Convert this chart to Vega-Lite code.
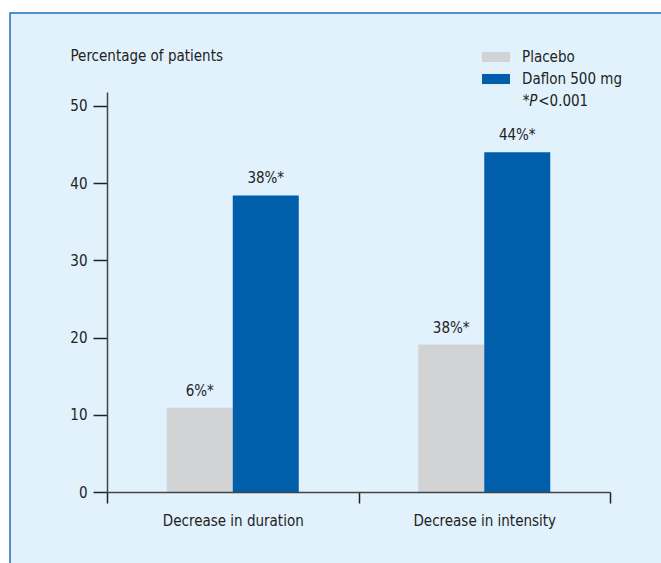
{
  "$schema": "https://vega.github.io/schema/vega-lite/v6.json",
  "autosize": {"type": "none"},
  "padding": {"left": 107, "top": 92, "right": 51, "bottom": 71},
  "width": 503,
  "height": 400,
  "background": "#ffffff",
  "config": {
    "view": {"stroke": null},
    "font": "DejaVu Sans Condensed, Liberation Sans Narrow, sans-serif",
    "axis": {
      "zindex": 1,
      "labelFont": "DejaVu Sans Condensed, Liberation Sans Narrow, sans-serif",
      "titleFont": "DejaVu Sans Condensed, Liberation Sans Narrow, sans-serif",
      "labelFontSize": 15,
      "titleFontSize": 15,
      "labelColor": "#222222",
      "titleColor": "#222222",
      "titleFontWeight": "normal",
      "domainColor": "#444444",
      "domainWidth": 1.5,
      "tickColor": "#222222",
      "tickWidth": 1.5,
      "grid": false
    },
    "legend": {
      "labelFont": "DejaVu Sans Condensed, Liberation Sans Narrow, sans-serif",
      "labelFontSize": 15,
      "labelColor": "#222222"
    }
  },
  "resolve": {"scale": {"x": "independent", "y": "independent"}},
  "layer": [
    {
      "data": {"values": [{"frame": "box"}]},
      "mark": {"type": "rect", "fill": "#e1f2fd", "stroke": "#1f6fbf", "strokeWidth": 1.5, "clip": false},
      "encoding": {
        "x": {"datum": -0.1928, "type": "quantitative", "scale": {"domain": [0, 1], "nice": false, "zero": false}, "axis": null},
        "x2": {"datum": 1.2},
        "y": {"datum": 1.1975, "type": "quantitative", "scale": {"domain": [0, 1], "nice": false, "zero": false}, "axis": null},
        "y2": {"datum": -0.3}
      }
    },
    {
      "data": {
        "values": [
          {"cat": "Decrease in duration", "group": "Placebo", "value": 10.9, "label": "6%*"},
          {"cat": "Decrease in duration", "group": "Daflon 500 mg", "value": 38.4, "label": "38%*"},
          {"cat": "Decrease in intensity", "group": "Placebo", "value": 19.1, "label": "38%*"},
          {"cat": "Decrease in intensity", "group": "Daflon 500 mg", "value": 44.0, "label": "44%*"}
        ]
      },
      "encoding": {
        "x": {
          "field": "cat",
          "type": "nominal",
          "sort": ["Decrease in duration", "Decrease in intensity"],
          "scale": {"domain": ["Decrease in duration", "Decrease in intensity"], "paddingInner": 0, "paddingOuter": 0},
          "axis": {
            "title": null,
            "labelAngle": 0,
            "tickBand": "extent",
            "tickSize": 11,
            "labelPadding": 10,
            "labelBaseline": "top",
            "zindex": 1
          }
        },
        "y": {
          "field": "value",
          "type": "quantitative",
          "scale": {"domain": [0, 51.8], "nice": false},
          "axis": {
            "values": [0, 10, 20, 30, 40, 50],
            "tickSize": 14,
            "labelPadding": 6,
            "title": "Percentage of patients",
            "titleAngle": 0,
            "titleAlign": "left",
            "titleBaseline": "middle",
            "titleX": -37,
            "titleY": -37,
            "zindex": 1
          }
        }
      },
      "layer": [
        {
          "mark": {"type": "bar"},
          "encoding": {
            "xOffset": {
              "field": "group",
              "type": "nominal",
              "sort": ["Placebo", "Daflon 500 mg"],
              "scale": {"paddingInner": 0, "paddingOuter": 0.905}
            },
            "color": {
              "field": "group",
              "type": "nominal",
              "sort": ["Placebo", "Daflon 500 mg"],
              "scale": {"domain": ["Placebo", "Daflon 500 mg"], "range": ["#d2d3d5", "#005eaa"]},
              "legend": {
                "title": null,
                "orient": "none",
                "legendX": 375,
                "legendY": -49,
                "symbolType": "M-1,-0.36H1V0.36H-1Z",
                "symbolSize": 784,
                "symbolStrokeWidth": 0,
                "symbolOpacity": 1,
                "labelOffset": 12,
                "rowPadding": 0,
                "zindex": 1
              }
            }
          }
        },
        {
          "mark": {"type": "text", "baseline": "alphabetic", "dy": -12, "fontSize": 15, "color": "#222222"},
          "encoding": {
            "xOffset": {"field": "group", "type": "nominal", "sort": ["Placebo", "Daflon 500 mg"]},
            "text": {"field": "label"}
          }
        },
        {
          "data": {"values": [{"note": "*", "x": "Decrease in intensity", "y": 50.6}]},
          "mark": {"type": "text", "align": "left", "baseline": "middle", "dx": 38.5, "fontSize": 15, "color": "#222222"},
          "encoding": {
            "x": {"field": "x", "type": "nominal"},
            "y": {"field": "y", "type": "quantitative"},
            "text": {"field": "note"}
          }
        },
        {
          "data": {"values": [{"note": "P", "x": "Decrease in intensity", "y": 50.6}]},
          "mark": {"type": "text", "align": "left", "baseline": "middle", "dx": 45, "fontSize": 15, "fontStyle": "italic", "color": "#222222"},
          "encoding": {
            "x": {"field": "x", "type": "nominal"},
            "y": {"field": "y", "type": "quantitative"},
            "text": {"field": "note"}
          }
        },
        {
          "data": {"values": [{"note": "<0.001", "x": "Decrease in intensity", "y": 50.6}]},
          "mark": {"type": "text", "align": "left", "baseline": "middle", "dx": 54, "fontSize": 15, "color": "#222222"},
          "encoding": {
            "x": {"field": "x", "type": "nominal"},
            "y": {"field": "y", "type": "quantitative"},
            "text": {"field": "note"}
          }
        }
      ]
    }
  ]
}
